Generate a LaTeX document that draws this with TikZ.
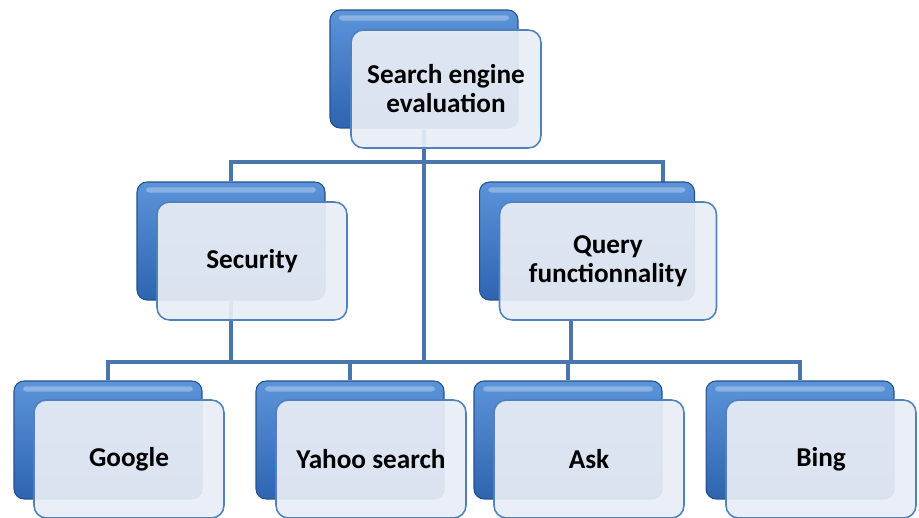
\documentclass[tikz,border=0pt]{standalone}
\usepackage{fontspec}
\setmainfont{Carlito}
\usepackage{tikz}
\usetikzlibrary{backgrounds}

\definecolor{boxblue}{RGB}{79,129,189}
\definecolor{boxtop}{RGB}{92,148,218}
\definecolor{boxbot}{RGB}{46,100,176}
\definecolor{paleblue}{RGB}{232,237,245}
\definecolor{linkblue}{RGB}{74,118,174}

\begin{document}
\begin{tikzpicture}[x=0.02cm,y=-0.02cm]
% Box styles
\tikzset{
    backbox/.style={rounded corners=0.2cm, minimum width=3.76cm, minimum height=2.36cm,
        top color=boxtop, bottom color=boxbot, draw=boxbot!80!black, line width=0.6pt,
        path picture={\fill[white,opacity=0.3,rounded corners=2pt]
            ([xshift=5pt,yshift=-3pt]path picture bounding box.north west) rectangle
            ([xshift=-5pt,yshift=-6pt]path picture bounding box.north east);}},
    frontbox/.style={rounded corners=0.25cm, minimum width=3.8cm, minimum height=2.36cm,
        fill=paleblue, fill opacity=0.93, text opacity=1, draw=boxblue, line width=0.9pt,
        align=center, font=\bfseries\fontsize{15.5}{16.5}\selectfont},
    link/.style={draw=linkblue, line width=2.2pt}
}
\useasboundingbox (0,0) rectangle (919,517);
\clip (0,0) rectangle (919,517);
% Level 0
\node[backbox] (rootB) at (424,69){};
\node[frontbox] (root) at (446,89){Search engine\\evaluation};
% Level 1
\node[backbox] (secB) at (231,241){};
\node[frontbox] (sec) at (252,261){Security};
\node[backbox, minimum width=4.3cm] (qryB) at (587,241){};
\node[frontbox, minimum width=4.34cm] (qry) at (608,261){Query\\functionnality};
% Level 2
\node[backbox] (ggB) at (108,440){};
\node[frontbox] (gg) at (129,459){Google};
\node[backbox] (yhB) at (350,440){};
\node[frontbox] (yh) at (371,459){Yahoo search};
\node[backbox] (askB) at (568,440){};
\node[frontbox] (ask) at (589,459){Ask};
\node[backbox] (bngB) at (800,440){};
\node[frontbox] (bng) at (821,459){Bing};
% Connection
\coordinate (topbus) at (424,162);
\coordinate (lowbus) at (424,362);
\coordinate (qryin) at (663,182);
\coordinate (qryout) at (571,320);
\begin{pgfonlayer}{background}
\draw[link] (rootB) -- (lowbus);
\draw[link] (secB.north) |- (topbus) -| (qryin);
\draw[link] (secB) -- (secB |- lowbus);
\draw[link] (qryout) -- (qryout |- lowbus);
\draw[link] (ggB.north) |- (lowbus) -| (bngB.north);
\draw[link] (yhB.north) -- (yhB |- lowbus);
\draw[link] (askB.north) -- (askB |- lowbus);
\end{pgfonlayer}
\end{tikzpicture}
\end{document}
